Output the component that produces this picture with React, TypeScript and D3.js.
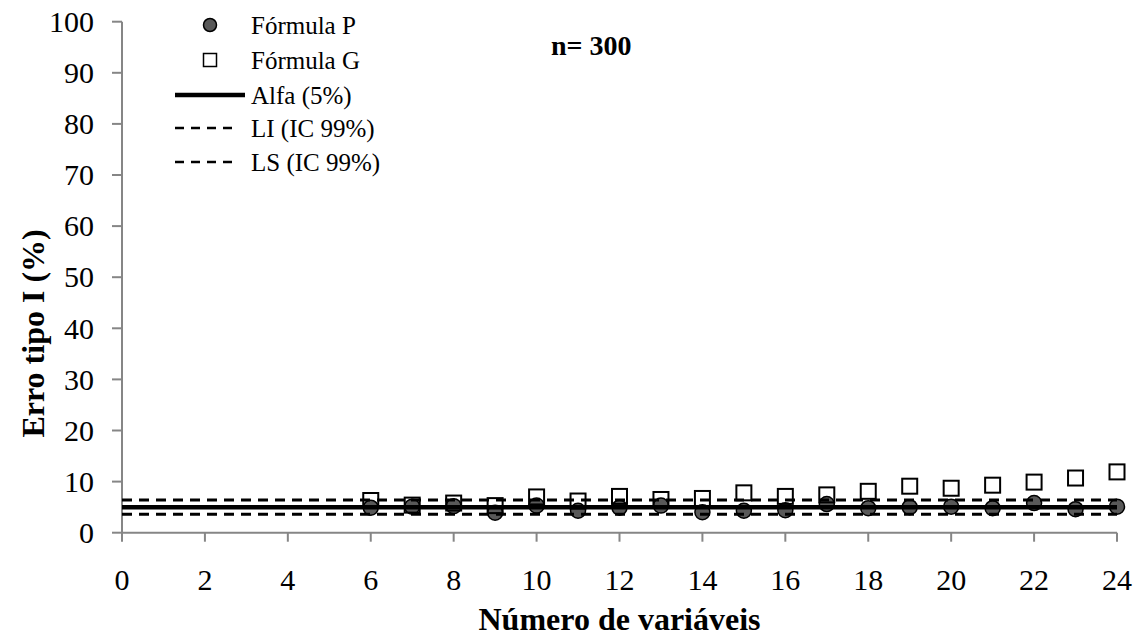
import React from "react";
import * as d3 from "d3";

// number of variables
const numVars = [6, 7, 8, 9, 10, 11, 12, 13, 14, 15, 16, 17, 18, 19, 20, 21, 22, 23, 24];
// type I error (%) for each formula
const formulaP = [4.9, 5.1, 5.2, 3.9, 5.3, 4.3, 4.9, 5.3, 4.0, 4.3, 4.4, 5.6, 4.8, 5.0, 5.1, 4.8, 5.8, 4.6, 5.1];
const formulaG = [6.3, 5.4, 5.8, 5.3, 7.0, 6.2, 7.1, 6.5, 6.7, 7.8, 7.1, 7.4, 8.1, 9.1, 8.7, 9.3, 9.9, 10.7, 11.9];
// reference lines
const alfa = 5;
const limInf = 3.6;
const limSup = 6.4;

const xTicks = d3.range(0, 25, 2);
const yTicks = d3.range(0, 101, 10);

const legendItems = ["Fórmula P", "Fórmula G", "Alfa (5%)", "LI (IC 99%)", "LS (IC 99%)"];

const W = 1142;
const H = 637;
const font = "'Liberation Serif', 'Times New Roman', serif";
const axisColor = "#868686";

const App = () => {
  const x = d3.scaleLinear().domain([0, 24]).range([122, 1117]);
  const y = d3.scaleLinear().domain([0, 100]).range([532.7, 21.7]);

  const hline = (v: number) => d3.line<number>().x(d => x(d)).y(() => y(v))([0, 24]) || "";

  const legendY = [25, 60, 95, 128, 162];

  return (
    <svg width={W} height={H} style={{ position: "absolute", left: 0, top: 0, background: "white" }}>
      {/* axes */}
      <line x1={x(0)} x2={x(24)} y1={y(0)} y2={y(0)} stroke={axisColor} strokeWidth={2} />
      <line x1={x(0)} x2={x(0)} y1={y(0)} y2={y(100)} stroke={axisColor} strokeWidth={2} />
      {yTicks.map(t => (
        <g key={"y" + t}>
          <line x1={x(0) - 10} x2={x(0)} y1={y(t)} y2={y(t)} stroke={axisColor} strokeWidth={2} />
          <text x={94} y={y(t)} dy="0.34em" textAnchor="end" fontFamily={font} fontSize={30}>{t}</text>
        </g>
      ))}
      {xTicks.map(t => (
        <g key={"x" + t}>
          <line x1={x(t)} x2={x(t)} y1={y(0)} y2={y(0) + 9} stroke={axisColor} strokeWidth={2} />
          <text x={x(t)} y={590} textAnchor="middle" fontFamily={font} fontSize={30}>{t}</text>
        </g>
      ))}

      {/* axis titles */}
      <text x={x(12)} y={630} textAnchor="middle" fontFamily={font} fontSize={32} fontWeight="bold">Número de variáveis</text>
      <text transform={`translate(44,${y(39)}) rotate(-90)`} textAnchor="middle" fontFamily={font} fontSize={32} fontWeight="bold">Erro tipo I (%)</text>

      {/* points */}
      {numVars.map((v, i) => (
        <circle key={"p" + v} cx={x(v)} cy={y(formulaP[i])} r={7.5} fill="#595959" stroke="#000" strokeWidth={1.5} />
      ))}
      {numVars.map((v, i) => (
        <rect key={"g" + v} x={x(v) - 7.5} y={y(formulaG[i]) - 7.5} width={15} height={15} fill="none" stroke="#000" strokeWidth={2} />
      ))}

      {/* reference lines */}
      <path d={hline(alfa)} stroke="#000" strokeWidth={4.5} fill="none" />
      <path d={hline(limInf)} stroke="#000" strokeWidth={3} strokeDasharray="10,7" fill="none" />
      <path d={hline(limSup)} stroke="#000" strokeWidth={3} strokeDasharray="10,7" fill="none" />

      {/* legend */}
      <circle cx={210} cy={legendY[0]} r={6.5} fill="#595959" stroke="#000" strokeWidth={1.5} />
      <rect x={203.5} y={legendY[1] - 6.5} width={13} height={13} fill="none" stroke="#000" strokeWidth={1.5} />
      <line x1={175} x2={245} y1={legendY[2]} y2={legendY[2]} stroke="#000" strokeWidth={4.5} />
      <line x1={175} x2={238} y1={legendY[3]} y2={legendY[3]} stroke="#000" strokeWidth={2.5} strokeDasharray="9,7" />
      <line x1={175} x2={238} y1={legendY[4]} y2={legendY[4]} stroke="#000" strokeWidth={2.5} strokeDasharray="9,7" />
      {legendItems.map((name, i) => (
        <text key={name} x={251} y={legendY[i] + 9} fontFamily={font} fontSize={25}>{name}</text>
      ))}

      <text x={551} y={55} fontFamily={font} fontSize={28} fontWeight="bold">n= 300</text>
    </svg>
  );
};

export default App;
